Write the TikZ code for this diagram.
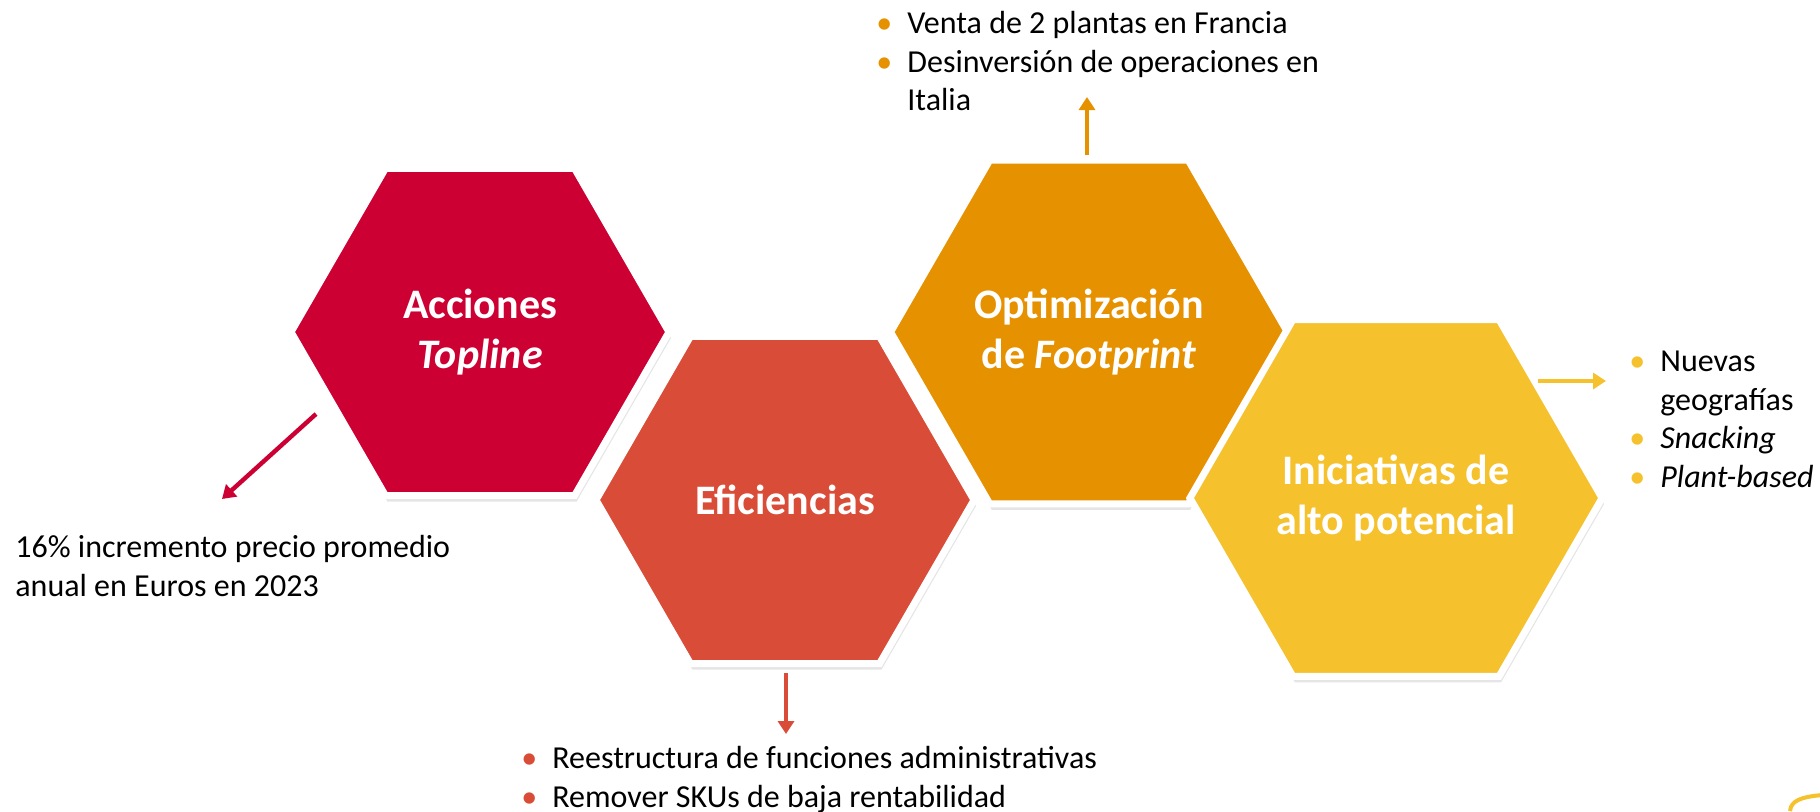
\documentclass[tikz,border=0pt]{standalone}
\usepackage{fontspec}
\setmainfont{Carlito}
\usetikzlibrary{shapes.geometric,arrows.meta,shadows}

\definecolor{topred}{RGB}{204,0,51}
\definecolor{efired}{RGB}{217,76,55}
\definecolor{footorange}{RGB}{230,145,0}
\definecolor{iniyellow}{RGB}{245,193,45}

\tikzset{
	hexa/.style={regular polygon, regular polygon sides=6,
		minimum size=189pt, draw=white, line width=3.5pt,
		text=white, align=center,
		font=\fontsize{21}{25}\selectfont\bfseries,
		drop shadow={shadow xshift=1pt, shadow yshift=-3pt, opacity=0.2}},
	bullets/.style={anchor=north west, inner sep=0pt, align=left,
		font=\fontsize{16}{19.25}\selectfont},
	arr/.style={line width=2.2pt, -{Triangle[length=6.5pt,width=8pt]}},
}
\newcommand{\bul}[1]{\makebox[15.5pt][l]{\textcolor{#1}{\textbullet}}}

\begin{document}
\begin{tikzpicture}[x=0.5pt,y=-0.5pt]

\fill[white] (0,0) rectangle (1820,811);
\useasboundingbox (0,0) rectangle (1820,811);

%Hexagons
\node [hexa, fill=topred]  (topline)at (480,332) {Acciones\\\textit{Topline}};
\node [hexa, fill=efired]  (efi)at (785,500) {Eficiencias};
\node [hexa, fill=footorange]  (foot)at (1089,332) {Optimización\\de \textit{Footprint}};
\node [hexa, fill=iniyellow]  (ini)at (1396,498) {Iniciativas de\\alto potencial};

%Topline text
\node [bullets]  (precio)at (15,535) {16\% incremento precio promedio\\anual en Euros en 2023};
\coordinate (toplineout) at (316,414);
\coordinate (toplinetip) at (222,499);
\draw[arr, topred] (toplineout) -- (toplinetip);

%Eficiencias list
\node [bullets]  (efilist)at (521,746) {\bul{efired}Reestructura de funciones administrativas\\
	\bul{efired}Remover SKUs de baja rentabilidad};
\coordinate (efiout) at (786,673);
\coordinate (efitip) at (786,734);
\draw[arr, efired] (efiout) -- (efitip);

%Footprint list
\node [bullets]  (footlist)at (876,11) {\bul{footorange}Venta de 2 plantas en Francia\\
	\bul{footorange}Desinversión de operaciones en\\
	\hspace{15.5pt}Italia};
\coordinate (footout) at (1087,155);
\coordinate (foottip) at (1087,97);
\draw[arr, footorange] (footout) -- (foottip);

%Iniciativas list
\node [bullets]  (inilist)at (1629,351) {\bul{iniyellow}Nuevas\\
	\hspace{15.5pt}geografías\\
	\bul{iniyellow}\textit{Snacking}\\
	\bul{iniyellow}\textit{Plant-based}};
\coordinate (iniout) at (1538,381);
\coordinate (initip) at (1606,381);
\draw[arr, iniyellow] (iniout) -- (initip);

%corner stroke
\draw[iniyellow, line width=2pt] (1790,811) .. controls (1791,801) and (1800,797) .. (1822,795);

\end{tikzpicture}
\end{document}
